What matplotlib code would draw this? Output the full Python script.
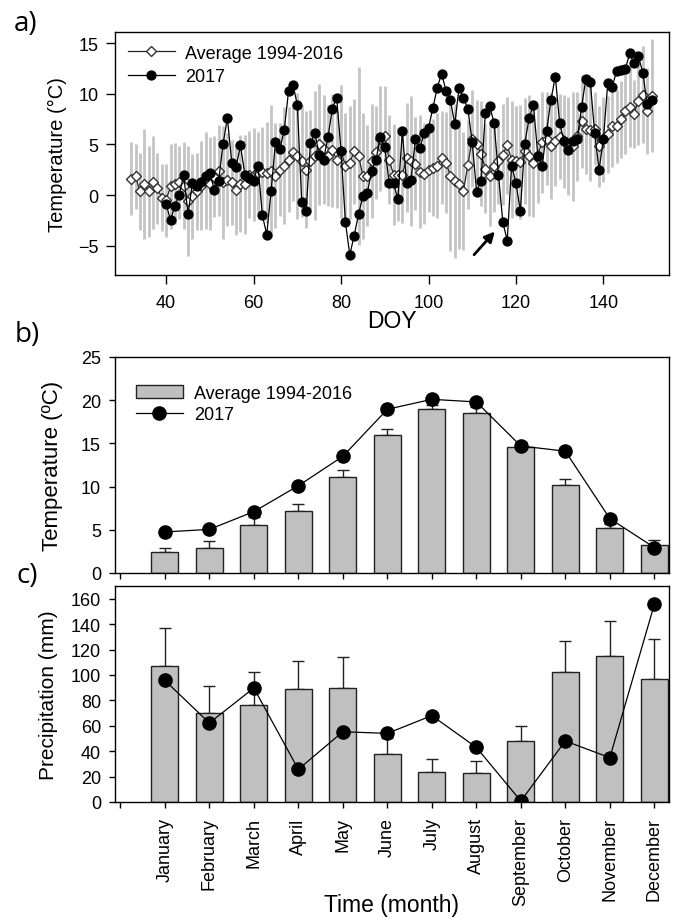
import matplotlib
matplotlib.use("Agg")
import matplotlib.pyplot as plt
import numpy as np
from matplotlib.patches import Patch
from matplotlib.lines import Line2D

plt.rcParams['font.family'] = ['Liberation Sans', 'DejaVu Sans']

# ---------------- Panel a data ----------------
doy_avg = list(range(32, 152))
avg_temp = [1.6, 1.85, 0.35, 1.1, 0.35, 1.25, 0.65, -0.25, -0.5, 0.85,
            1.1, 1.25, 0.9, -0.6, -0.1, 0.35, 0.9, 1.4, 1.1, 1.8,
            2.4, 1.25, 1.5, 1.25, 0.5, 1.1, 1.05, 2.0, 2.0, 2.2,
            2.3, 2.2, 2.4, 1.9, 2.5, 2.9, 3.5, 4.2, 3.85, 3.35,
            2.5, 3.35, 3.9, 5.0, 4.5, 3.9, 4.4, 3.5, 4.3, 2.9,
            3.2, 4.3, 3.85, 1.9, 1.9, 3.35, 4.2, 5.55, 5.8, 3.5,
            2.0, 2.0, 2.0, 3.7, 3.35, 3.1, 2.3, 2.1, 2.5, 2.7,
            2.9, 3.7, 3.2, 1.9, 1.4, 1.1, 0.4, 3.0, 5.55, 5.0,
            4.1, 2.6, 1.9, 2.9, 3.35, 4.0, 4.9, 3.5, 3.35, 3.25,
            4.35, 3.9, 3.2, 4.0, 5.2, 5.55, 4.85, 5.3, 5.75, 5.3,
            4.85, 4.8, 5.8, 7.3, 6.5, 6.4, 6.55, 4.8, 5.5, 6.0,
            6.8, 6.8, 7.5, 8.3, 8.7, 8.0, 9.3, 9.9, 8.3, 9.8]
avg_sd = [3.6, 3.2, 3.8, 5.4, 4.5, 4.6, 3.5, 3.3, 3.6, 4.2,
          4.0, 3.6, 4.3, 5.4, 4.2, 3.8, 4.4, 4.8, 4.6, 4.0,
          4.5, 5.6, 4.6, 4.2, 4.4, 4.8, 4.9, 4.3, 4.6, 4.0,
          4.4, 5.0, 6.5, 5.2, 4.6, 5.8, 5.2, 4.8, 6.2, 5.5,
          5.8, 5.0, 6.4, 6.0, 5.4, 5.0, 5.6, 4.8, 6.6, 5.2,
          5.6, 5.2, 8.8, 6.2, 5.0, 5.6, 4.6, 5.2, 5.0, 4.4,
          5.0, 4.6, 4.8, 5.4, 6.4, 4.6, 5.6, 5.0, 4.2, 4.8,
          5.2, 4.6, 5.0, 7.4, 7.6, 6.4, 5.8, 4.4, 4.8, 4.4,
          5.2, 4.4, 5.0, 4.6, 4.2, 5.0, 4.8, 5.8, 5.4, 5.6,
          5.2, 6.0, 5.4, 4.8, 5.0, 4.6, 5.2, 4.4, 4.2, 4.6,
          4.8, 5.4, 4.4, 4.6, 4.4, 5.0, 3.6, 4.0, 4.2, 3.8,
          4.0, 3.6, 3.8, 4.2, 4.0, 3.4, 4.4, 4.8, 4.2, 5.6]
doy_2017 = list(range(40, 152))
temp_2017 = [-0.9, -2.5, -1.05, 0.0, 2.0, -1.9, 1.2, 0.85, 1.25, 1.9,
             2.2, 0.5, 1.4, 5.0, 7.6, 3.2, 2.8, 4.9, 2.0, 1.7,
             1.4, 2.9, -2.0, -3.9, 0.4, 5.2, 4.5, 6.4, 10.3, 10.9,
             8.9, -0.7, -1.6, 5.1, 6.1, 4.0, 3.5, 5.7, 8.5, 9.6,
             4.3, -2.7, -5.9, -4.0, -1.9, -0.1, 0.2, 2.4, 3.5, 5.7,
             4.7, 1.15, 1.15, -0.4, 6.3, 1.15, 1.5, 5.5, 4.6, 6.1,
             6.6, 8.6, 10.6, 12.0, 10.3, 9.4, 7.0, 10.6, 9.6, 8.5,
             5.2, 0.3, 1.4, 8.1, 8.8, 7.1, 2.0, -2.7, -4.5, 2.9,
             1.2, -1.6, 5.0, 7.6, 8.9, 3.9, 2.9, 6.3, 9.4, 11.7,
             7.1, 5.3, 4.4, 5.3, 5.5, 8.7, 11.5, 11.2, 6.1, 2.5,
             5.5, 11.1, 10.7, 12.2, 12.3, 12.4, 14.0, 13.0, 13.7, 12.1,
             9.0, 9.4]

# ---------------- Panel b / c data ----------------
months = ['January', 'February', 'March', 'April', 'May', 'June', 'July',
          'August', 'September', 'October', 'November', 'December']
temp_avg_month = [2.43, 2.85, 5.6, 7.2, 11.1, 16.0, 19.0, 18.5, 14.6, 10.2, 5.2, 3.2]
temp_err_month = [0.5, 0.9, 0.9, 0.8, 0.8, 0.7, 0.5, 0.7, 0.6, 0.65, 0.5, 0.6]
temp_2017_month = [4.75, 5.05, 7.1, 10.1, 13.5, 18.95, 20.1, 19.8, 14.7, 14.1, 6.3, 2.95]

prec_avg_month = [107, 70.3, 76.6, 88.9, 90, 38, 23.9, 22.6, 48, 102.3, 115.1, 96.8]
prec_err_month = [30, 20.7, 25.4, 21.8, 23.8, 12, 10.2, 9.9, 11.8, 24.1, 27.6, 31.5]
prec_2017_month = [95.7, 62.2, 89.7, 25.7, 55.3, 54, 68, 43, 0.8, 48, 34.9, 155.5]

W, H = 676, 920
fig = plt.figure(figsize=(W / 100, H / 100), dpi=100)

def box(l, t, r, b):
    return [l / W, 1 - b / H, (r - l) / W, (b - t) / H]

def fx(px):
    return px / W

def fy(py):
    return 1 - py / H

bar_grey = '#c0c0c0'
err_grey = '#c4c4c4'
tick_fs = 13
L, R = 115, 669

def style(ax, tlen):
    ax.tick_params(direction='out', length=tlen, width=1, labelsize=tick_fs,
                   top=False, right=False, pad=5.5)
    for s in ax.spines.values():
        s.set_linewidth(1.0)

# ---------------- Panel a ----------------
axa = fig.add_axes(box(L, 33, R, 276))
axa.errorbar(doy_avg, avg_temp, yerr=avg_sd, fmt='none', ecolor=err_grey,
             elinewidth=2.0, capsize=0, zorder=1)
axa.plot(doy_avg, avg_temp, '-', color='#222222', lw=0.9, marker='D',
         markersize=5, markerfacecolor='white', markeredgecolor='#333333',
         markeredgewidth=1.0, zorder=3, label='Average 1994-2016')
axa.plot(doy_2017, temp_2017, '-', color='black', lw=0.9, marker='o',
         markersize=6.4, markerfacecolor='black', markeredgecolor='black',
         zorder=4, label='2017')
axa.annotate('', xy=(115.6, -3.4), xytext=(110, -6.1),
             arrowprops=dict(arrowstyle='-|>', color='black', lw=2.0,
                             mutation_scale=15))
axa.set_xlim(28.3, 155.0)
axa.set_ylim(-7.9, 16.1)
axa.set_xticks([40, 60, 80, 100, 120, 140])
axa.set_yticks([-5, 0, 5, 10, 15])
style(axa, 6.5)
axa.tick_params(axis='x', pad=7)
axa.legend(loc='upper left', frameon=False, fontsize=13,
           handlelength=2.6, borderaxespad=0.3, labelspacing=0.35,
           handletextpad=0.6, bbox_to_anchor=(0.0, 1.0))
fig.text(fx(392), fy(322), 'DOY', fontsize=16.5, ha='center', va='center')
fig.text(fx(57), fy(154.5), 'Temperature (°C)', fontsize=14.5, rotation=90,
         ha='center', va='center')

# ---------------- Panel b ----------------
xpos = np.arange(1, 13)
axb = fig.add_axes(box(L, 358, R, 574))
axb.bar(xpos, temp_avg_month, width=0.6, color=bar_grey, edgecolor='#222222',
        linewidth=1.0, zorder=2)
axb.errorbar(xpos, temp_avg_month, yerr=[np.zeros(12), temp_err_month],
             fmt='none', ecolor='#222222', elinewidth=1.0, capsize=4,
             capthick=1.0, zorder=1)
axb.plot(xpos, temp_2017_month, '-', color='black', lw=0.9, marker='o',
         markersize=9.5, zorder=4)
axb.set_xlim(-0.12, 12.33)
axb.set_ylim(0, 25)
axb.set_yticks([0, 5, 10, 15, 20, 25])
axb.set_xticks(range(0, 13))
axb.set_xticklabels([])
style(axb, 4.5)
handles_b = [Patch(facecolor=bar_grey, edgecolor='#222222', linewidth=1.0),
             Line2D([], [], color='black', lw=0.9, marker='o', markersize=9.5)]
axb.legend(handles_b, ['Average 1994-2016', '2017'], loc='upper left',
           frameon=False, fontsize=13, handlelength=2.6, borderaxespad=0.3,
           labelspacing=0.25, handletextpad=0.6, bbox_to_anchor=(0.015, 0.93))
fig.text(fx(53), fy(466), 'Temperature (ºC)', fontsize=16, rotation=90,
         ha='center', va='center')

# ---------------- Panel c ----------------
axc = fig.add_axes(box(L, 587, R, 803))
axc.bar(xpos, prec_avg_month, width=0.6, color=bar_grey, edgecolor='#222222',
        linewidth=1.0, zorder=2)
axc.errorbar(xpos, prec_avg_month, yerr=[np.zeros(12), prec_err_month],
             fmt='none', ecolor='#222222', elinewidth=1.0, capsize=4,
             capthick=1.0, zorder=1)
axc.plot(xpos, prec_2017_month, '-', color='black', lw=0.9, marker='o',
         markersize=9.5, zorder=4)
axc.set_xlim(-0.12, 12.33)
axc.set_ylim(0, 170)
axc.set_yticks(range(0, 161, 20))
axc.set_xticks(range(0, 13))
axc.set_xticklabels([''] + months, rotation=90)
style(axc, 4.5)
axc.tick_params(axis='x', pad=6.5)
fig.text(fx(49), fy(695), 'Precipitation (mm)', fontsize=15, rotation=90,
         ha='center', va='center')
fig.text(fx(392), fy(906), 'Time (month)', fontsize=16.5, ha='center',
         va='center')

# panel labels
for txt, xx, yy in [('a)', 26, 24), ('b)', 27, 335), ('c)', 27, 576)]:
    fig.text(fx(xx), fy(yy), txt, fontsize=20, ha='center', va='center',
             family=['Open Sans', 'DejaVu Sans'])

fig.savefig('out.png', dpi=100)
